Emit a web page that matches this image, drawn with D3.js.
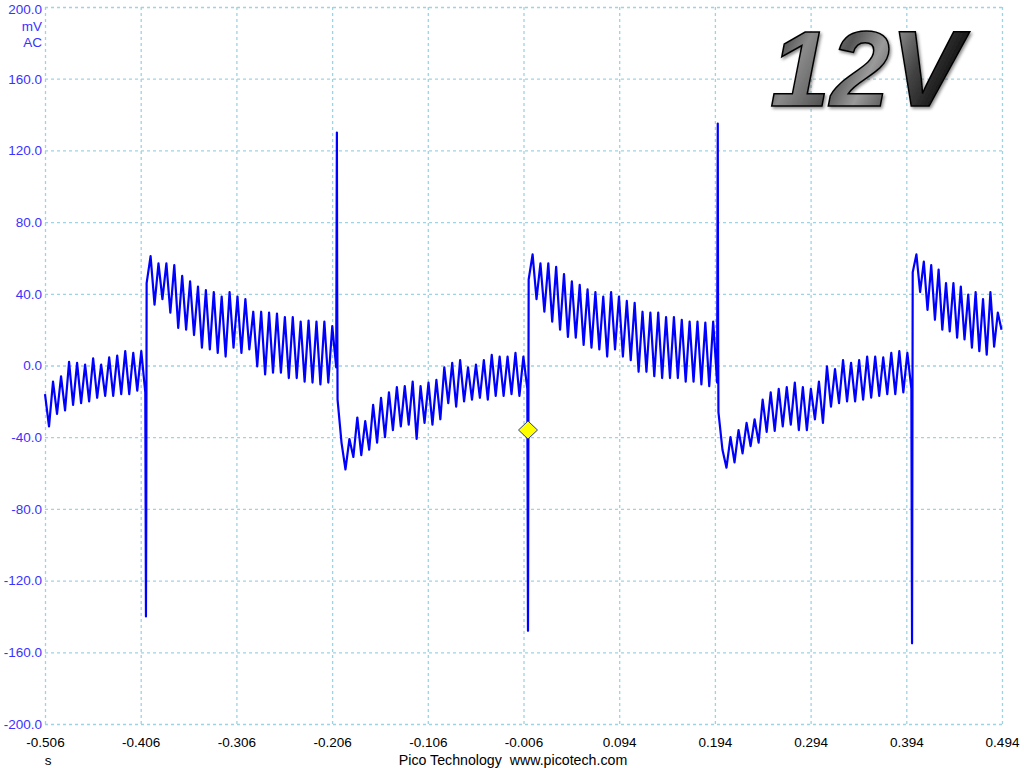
<!DOCTYPE html>
<html>
<head>
<meta charset="utf-8">
<script src="https://cdn.jsdelivr.net/npm/d3@7"></script>
<style>
  html, body { margin: 0; padding: 0; background: #ffffff; }
  svg { display: block; }
</style>
</head>
<body>
<svg id="chart" width="1024" height="768"></svg>
<script>
// ---------------- data ----------------
const xTickValues = [-0.506, -0.406, -0.306, -0.206, -0.106, -0.006, 0.094, 0.194, 0.294, 0.394, 0.494];
const xTickLabels = ["-0.506", "-0.406", "-0.306", "-0.206", "-0.106", "-0.006", "0.094", "0.194", "0.294", "0.394", "0.494"];
const yTickValues = [200, 160, 120, 80, 40, 0, -40, -80, -120, -160, -200];
const yTickLabels = ["200.0", "160.0", "120.0", "80.0", "40.0", "0.0", "-40.0", "-80.0", "-120.0", "-160.0", "-200.0"];
const yUnitLabels = ["mV", "AC"];
const xUnitLabel = "s";
const footerText = "Pico Technology  www.picotech.com";
const titleText = "12V";

// time of each step change (s)
const jumpTimes = [-0.4005, -0.201, -0.0013, 0.197, 0.400];
// extreme value of the narrow spike at each step (mV)
const spikePeaks = [-140, 130, -148, 135, -155];
// short tail reached right after the spike (mV), null when none
const spikeTails = [-84, 46, null, 34, null];
const traceStart = -0.506, traceEnd = 0.4935;

// ripple extremes, in order, for each segment between steps (mV)
const seg0 = [-16, -34, -9, -27, -6, -25, 2, -22, 1.5, -21, 0.5, -20, 4, -18, 0.5, -17, 4.5, -17, 5.5, -16, 8, -16, 7, -14, 8, -15];
const seg1 = [46, 61, 34, 57, 37, 57, 29.5, 56, 21, 50, 20, 47, 17, 44, 10, 42, 9, 41, 7, 38.5, 5, 41, 10, 38.5, 7, 37, 9, 30, -0.5, 30, -5, 29.5, -4, 29, -4, 27, -7, 27, -7, 24.5, -9, 25, -9.5, 24.5, -10.5, 24.5, -9.5, 22, -1];
const seg2 = [-19, -43, -58, -41, -51, -29, -50, -31, -47, -22, -43, -18, -40, -15, -36, -12, -34, -11.5, -33, -9, -41, -11.5, -32, -9.5, -33, -8, -30, -1, -21, 1.5, -23, 3, -20, -1, -19, 0.5, -18, 3, -19, 6, -17, 5, -17, 5, -16, 7, -17, 5, -13];
const seg3 = [48, 62, 37, 57, 30, 57, 24.5, 55, 20, 51, 16, 47, 15.5, 45, 11.5, 42.5, 10, 41, 9, 38.5, 5, 41, 9, 38.5, 5, 36, 3, 35, -3.5, 30, -3.5, 29.5, -6, 29.5, -7, 27, -7, 27, -7, 25.5, -9, 24.5, -9, 24.5, -10.5, 24, -11.5, 24.5, -9.5];
const seg4 = [-26, -47, -57, -40, -54, -36, -49, -32, -45, -30, -43, -19, -37, -15, -36.5, -13, -34, -12, -33, -9.5, -36, -12, -36, -13, -30, -9, -32, -0.5, -23, -2, -21, 3, -20, 1.5, -20, 3, -19, 5, -18, 5, -17, 4.5, -16, 7, -16, 8, -15, 7, -13];
const seg5 = [52, 62, 41, 58, 31, 56, 25.5, 53.5, 20, 46, 19, 46, 15.5, 44, 14.5, 39.5, 10, 41, 8, 37, 6, 41, 10.5, 29.5, 20];
const segments = [seg0, seg1, seg2, seg3, seg4, seg5];

// trigger marker [time s, value mV]
const triggerPoint = [-0.0013, -36];

// ---------------- layout ----------------
const svg = d3.select("#chart");
const plot = { left: 45, right: 1002, top: 7, bottom: 724 };
const x = d3.scaleLinear().domain([-0.506, 0.494]).range([plot.left, plot.right]);
const y = d3.scaleLinear().domain([-200, 200]).range([plot.bottom, plot.top]);

const gridColor = "#9dd3e4";
const fontFam = "'Liberation Sans', Arial, sans-serif";

// grid lines (vertical)
const gx = svg.append("g")
  .attr("transform", `translate(0,${plot.bottom})`)
  .call(d3.axisBottom(x).tickValues(xTickValues).tickSize(-(plot.bottom - plot.top)).tickFormat(""));
gx.select(".domain").remove();
gx.selectAll(".tick line").attr("stroke", gridColor).attr("stroke-width", 1.3).attr("stroke-dasharray", "3,3");

// grid lines (horizontal)
const gy = svg.append("g")
  .attr("transform", `translate(${plot.left},0)`)
  .call(d3.axisLeft(y).tickValues(yTickValues).tickSize(-(plot.right - plot.left)).tickFormat(""));
gy.select(".domain").remove();
gy.selectAll(".tick line").attr("stroke", gridColor).attr("stroke-width", 1.3).attr("stroke-dasharray", "3,3");

// y labels
const ay = svg.append("g")
  .attr("transform", `translate(${plot.left - 3},0)`)
  .call(d3.axisLeft(y).tickValues(yTickValues).tickSize(0).tickPadding(0)
    .tickFormat((d, i) => yTickLabels[i]));
ay.select(".domain").remove();
ay.selectAll("text").attr("fill", "#3a32ff").attr("font-family", fontFam).attr("font-size", 13.5);
ay.selectAll(".tick").filter(d => d === 200).select("text").attr("dy", "0.45em");

svg.selectAll(".yunit").data(yUnitLabels).enter().append("text")
  .attr("class", "yunit")
  .attr("x", plot.left - 3)
  .attr("y", (d, i) => y(200) + 24 + i * 16)
  .attr("text-anchor", "end")
  .attr("fill", "#3a32ff")
  .attr("font-family", fontFam).attr("font-size", 13.5)
  .text(d => d);

// x labels
const ax = svg.append("g")
  .attr("transform", `translate(0,${plot.bottom})`)
  .call(d3.axisBottom(x).tickValues(xTickValues).tickSize(0).tickPadding(13)
    .tickFormat((d, i) => xTickLabels[i]));
ax.select(".domain").remove();
ax.selectAll("text").attr("fill", "#000").attr("font-family", fontFam).attr("font-size", 13.5);

svg.append("text")
  .attr("x", x(-0.506) + 3).attr("y", 765)
  .attr("text-anchor", "middle")
  .attr("font-family", fontFam).attr("font-size", 13.5)
  .text(xUnitLabel);

svg.append("text")
  .attr("x", 513).attr("y", 765)
  .attr("text-anchor", "middle")
  .attr("font-family", fontFam).attr("font-size", 14.2)
  .style("white-space", "pre")
  .attr("xml:space", "preserve")
  .text(footerText);

// ---------------- trace ----------------
const bounds = [traceStart, ...jumpTimes, traceEnd];
const pts = [];
segments.forEach((vals, k) => {
  const a = k === 0 ? bounds[0] : bounds[k] + 0.0007;
  const b = k === segments.length - 1 ? bounds[k + 1] : bounds[k + 1] - 0.0007;
  const n = vals.length;
  vals.forEach((v, i) => pts.push({ t: a + (b - a) * i / (n - 1), v }));
  if (k < jumpTimes.length) {
    pts.push({ t: jumpTimes[k], v: spikePeaks[k] });
    if (spikeTails[k] !== null) pts.push({ t: jumpTimes[k] + 0.0003, v: spikeTails[k] });
  }
});

const line = d3.line().x(d => x(d.t)).y(d => y(d.v));
svg.append("path")
  .datum(pts)
  .attr("d", line)
  .attr("fill", "none")
  .attr("stroke", "#0000ff")
  .attr("stroke-width", 2.2)
  .attr("stroke-linejoin", "round");

// trigger diamond
const tx = x(triggerPoint[0]), ty = y(triggerPoint[1]);
svg.append("path")
  .attr("d", `M${tx},${ty - 9}L${tx + 9.5},${ty}L${tx},${ty + 9}L${tx - 9.5},${ty}Z`)
  .attr("fill", "#ffff00")
  .attr("stroke", "#2a3aa0")
  .attr("stroke-width", 1);

// ---------------- 12V badge ----------------
const defs = svg.append("defs");
const grad = defs.append("linearGradient").attr("id", "metal")
  .attr("x1", "0").attr("y1", "0").attr("x2", "1").attr("y2", "0.3");
[["0%", "#111"], ["25%", "#8a8a8a"], ["45%", "#555"], ["60%", "#9a9a9a"], ["80%", "#444"], ["100%", "#111"]]
  .forEach(([o, c]) => grad.append("stop").attr("offset", o).attr("stop-color", c));
const filt = defs.append("filter").attr("id", "shade").attr("x", "-10%").attr("y", "-10%").attr("width", "120%").attr("height", "130%");
filt.append("feDropShadow").attr("dx", 1.5).attr("dy", 2).attr("stdDeviation", 1.5).attr("flood-color", "#000").attr("flood-opacity", 0.45);

svg.append("text")
  .attr("x", 770).attr("y", 106)
  .attr("font-family", fontFam)
  .attr("font-size", 108)
  .attr("font-weight", "bold")
  .attr("font-style", "italic")
  .attr("fill", "url(#metal)")
  .attr("stroke", "#000")
  .attr("stroke-width", 1.5)
  .attr("filter", "url(#shade)")
  .text(titleText);
</script>
</body>
</html>
